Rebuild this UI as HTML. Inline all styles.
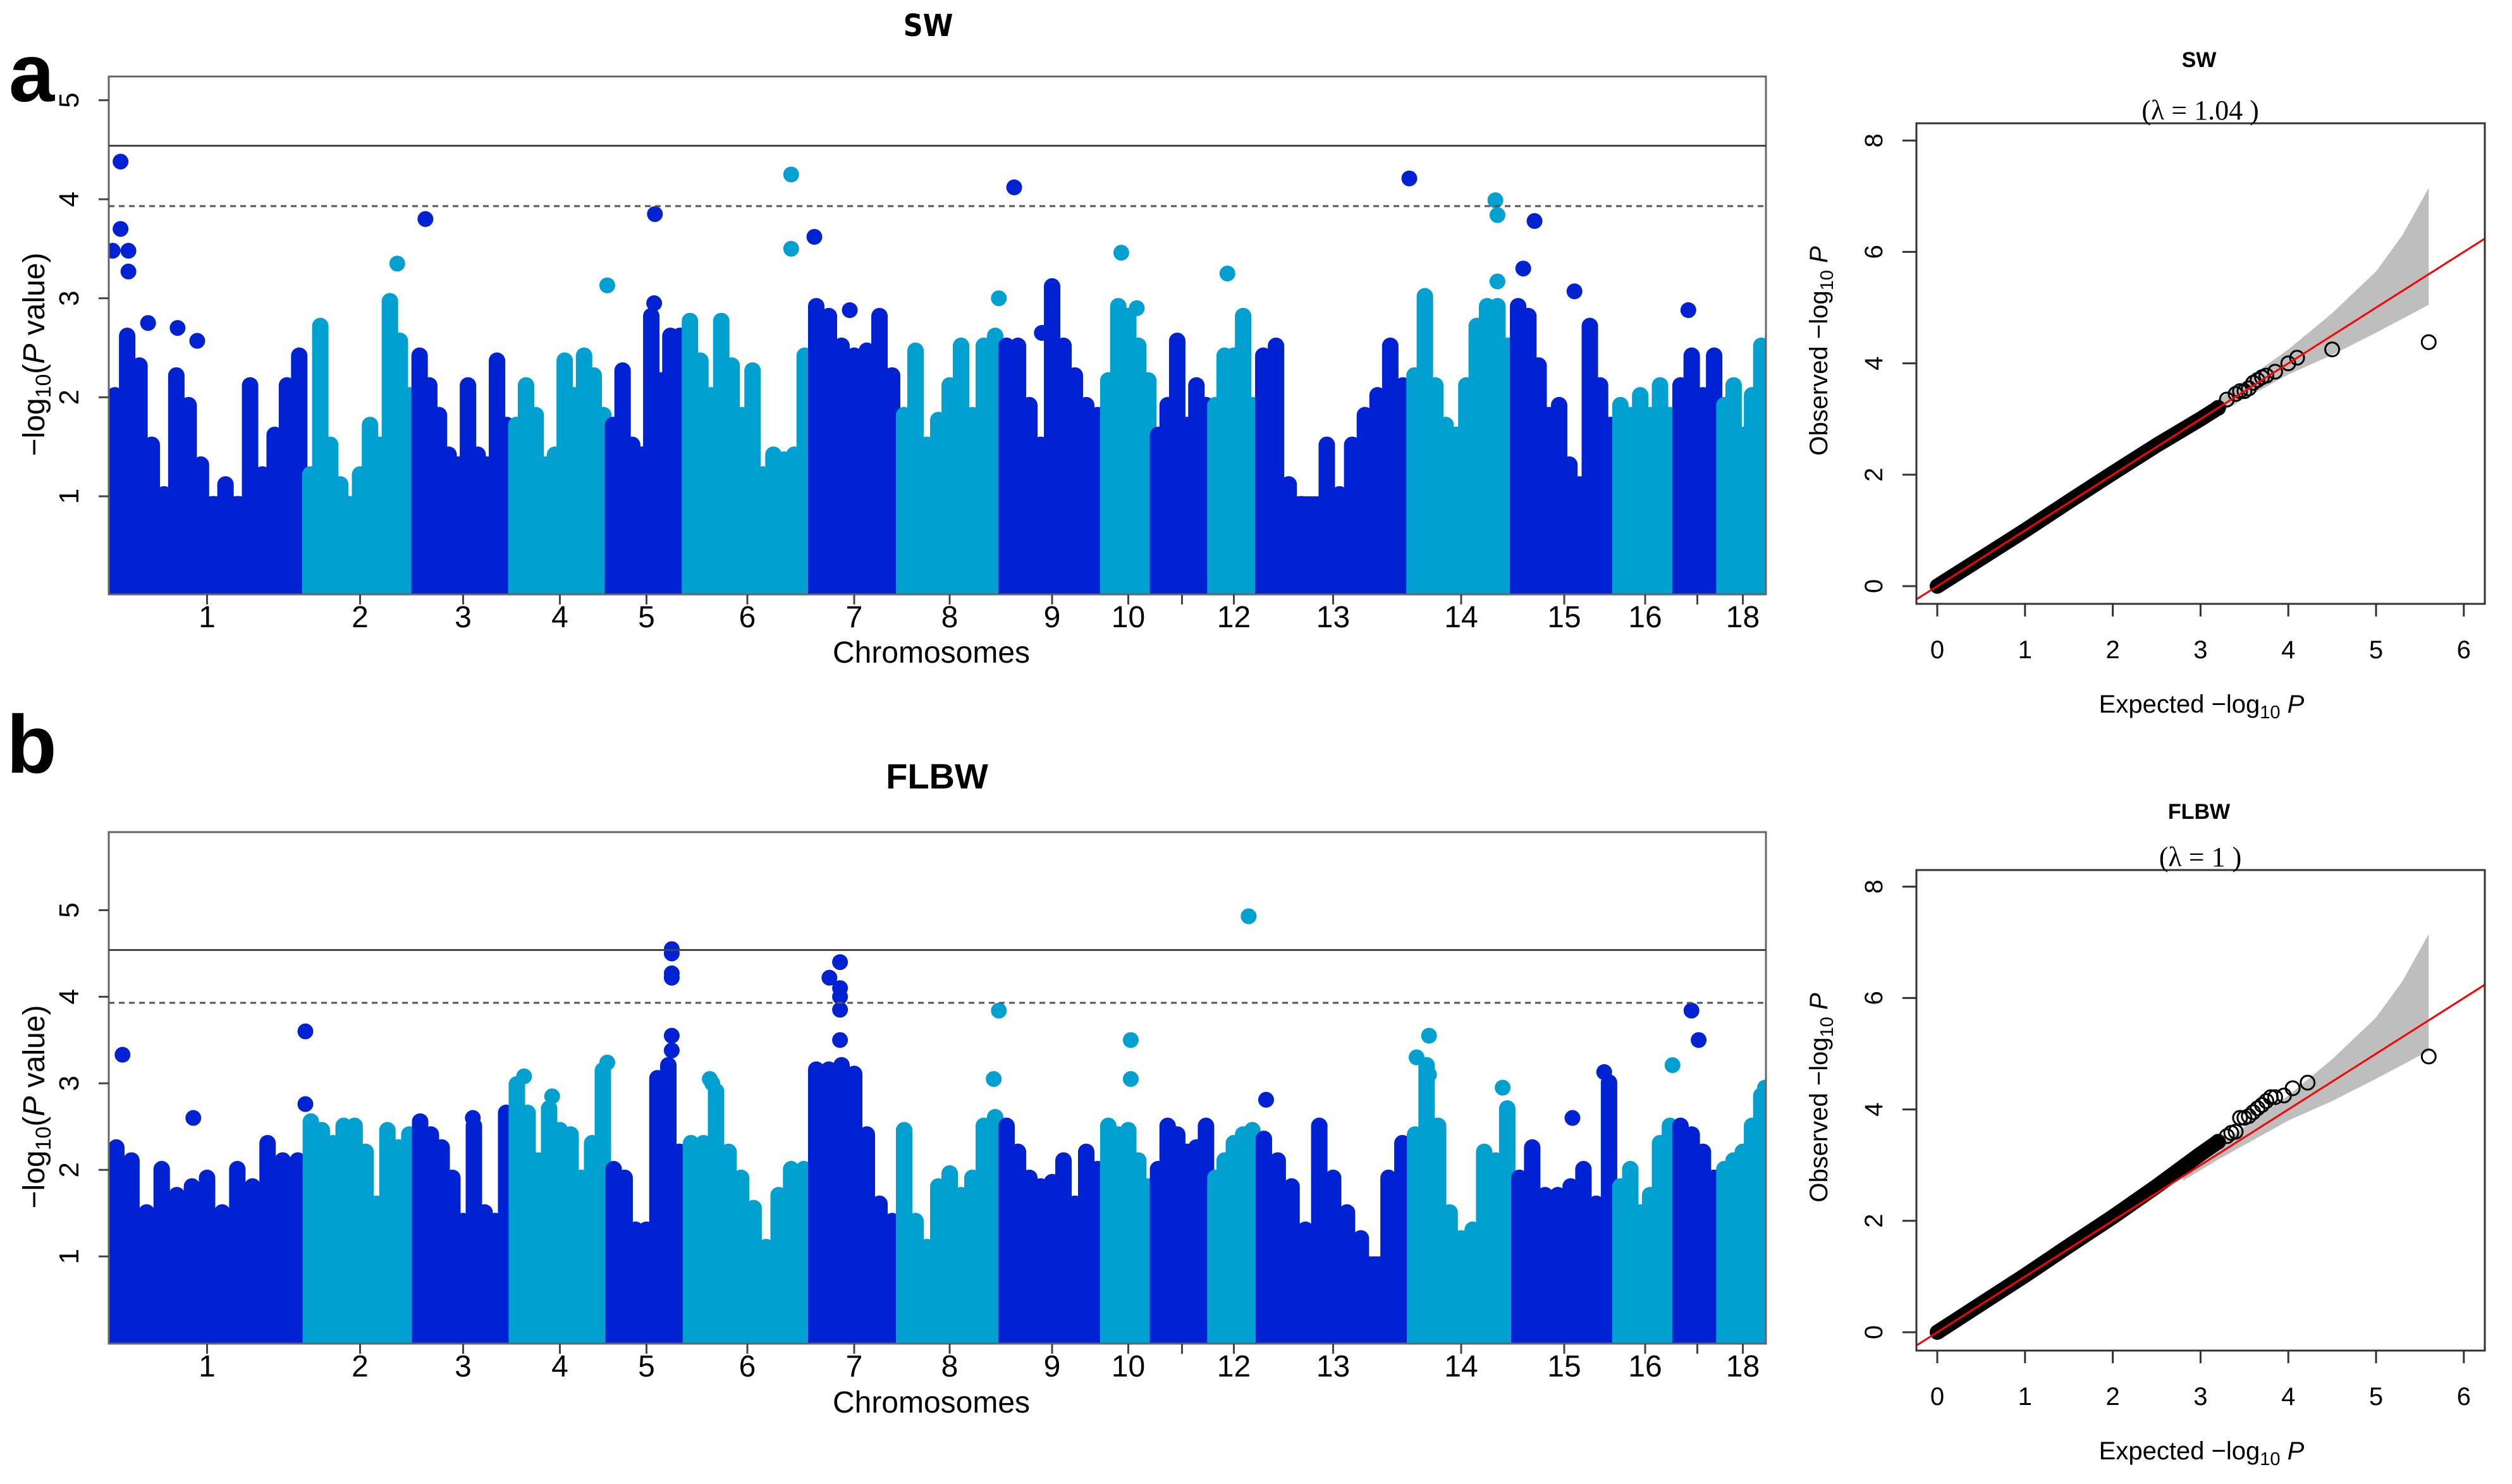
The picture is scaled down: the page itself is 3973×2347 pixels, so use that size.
<!DOCTYPE html>
<html><head><meta charset="utf-8"><style>
html,body{margin:0;padding:0;background:#fff;}
svg{display:block;}
text{font-family:"Liberation Sans",sans-serif;}
</style></head>
<body>
<svg id="fig" xmlns="http://www.w3.org/2000/svg" width="3973" height="2347" viewBox="0 0 3973 2347">
<rect width="3973" height="2347" fill="#fff"/>
<text x="50" y="160" font-size="130" font-weight="bold" text-anchor="middle" style="font-family:'Liberation Sans Narrow','Liberation Sans',sans-serif">a</text>
<text x="50" y="1222" font-size="130" font-weight="bold" text-anchor="middle" style="font-family:'Liberation Sans Narrow','Liberation Sans',sans-serif">b</text>
<text x="1468" y="57" font-size="48" font-weight="bold" text-anchor="middle" style="font-family:'DejaVu Sans Condensed','Liberation Sans',sans-serif">SW</text>
<text x="1482" y="1247" font-size="56" font-weight="bold" text-anchor="middle">FLBW</text>
<g id="manA"></g>
<g id="manB"></g>
<g id="qqA"></g>
<g id="qqB"></g>
</svg>
<script>
// ---- data ----
const chromNames = ["1","2","3","4","5","6","7","8","9","10","11","12","13","14","15","16","17","18"];
const chromLen = [311,173,153,153,121,198,140,162,162,79,91,73,241,164,162,94,71,73];
const chromLabelShown = [1,1,1,1,1,1,1,1,1,1,0,1,1,1,1,1,0,1];
const yTicksManhattan = [1,2,3,4,5];
const thresholdSolid = 4.54;
const thresholdDashed = 3.93;

const colsA = [
 [2.1,2.7,2.4,1.6,1.1,2.3,2.0,1.4,1.0,1.2,1.0,2.2,1.3,1.7,2.2,2.5],
 [1.3,2.8,1.6,1.2,1.0,1.3,1.8,1.6,3.05,2.65,2.1],
 [2.5,2.2,1.9,1.5,1.4,2.2,1.5,1.4,2.45,1.8],
 [1.8,2.2,1.9,1.4,1.5,2.45,2.1,2.5,2.3,1.9],
 [1.8,2.35,1.6,1.5,2.9,2.25,2.7,2.7],
 [2.85,2.45,2.1,2.85,2.4,1.9,2.35,1.3,1.5,1.45,1.5,2.5],
 [3.0,2.9,2.6,2.5,2.55,2.9,2.3],
 [1.9,2.55,1.6,1.85,2.2,2.6,1.9,2.6,2.7],
 [2.6,2.6,2.0,1.6,3.2,2.6,2.3,2.0,1.9],
 [2.25,3.0,2.9,2.6,2.25],
 [1.7,2.0,2.65,1.8,2.2,2.0],
 [2.0,2.5,2.5,2.9,2.0],
 [2.5,2.6,1.2,1.0,0.9,1.6,1.1,1.6,1.9,2.1,2.6,2.2],
 [2.3,3.1,2.2,1.8,1.7,2.2,2.8,3.0,3.0,2.6],
 [3.0,2.9,2.4,1.9,2.0,1.4,1.2,2.8,2.2,1.8],
 [2.0,1.9,2.1,1.9,2.2,1.9],
 [2.2,2.5,2.1,2.5],
 [2.0,2.2,1.7,2.1,2.6]
];
const hitsAChrom = [0,0,0,0,0,0,0,0,1,2,3,4,4,5,5,6,6,7,8,8,9,9,11,12,13,13,13,14,14,14,16];
const hitsAFrac  = [0.06,0.06,0.02,0.1,0.1,0.2,0.35,0.45,0.84,0.11,0.99,0.61,0.6,0.85,0.85,0.05,0.45,0.98,0.13,0.4,0.36,0.67,0.36,1.0,0.83,0.85,0.85,0.21,0.1,0.6,0.3];
const hitsAVal   = [4.38,3.7,3.48,3.48,3.27,2.75,2.7,2.57,3.35,3.8,3.13,3.85,2.95,4.25,3.5,3.62,2.88,3.0,4.12,2.65,3.46,2.9,3.25,4.21,3.99,3.84,3.17,3.78,3.3,3.07,2.88];

const colsB = [
 [2.35,2.2,1.6,2.1,1.8,1.9,2.0,1.6,2.1,1.9,2.4,2.2,2.2],
 [2.65,2.55,2.4,2.6,2.6,2.3,1.7,2.55,2.35,2.5],
 [2.65,2.5,2.35,2.0,1.5,2.6,1.6,1.5,2.75],
 [3.08,2.75,2.2,2.8,2.55,2.5,2.0,2.4,3.24],
 [2.1,2.0,1.4,1.4,3.15,3.3,2.3],
 [2.4,2.4,3.0,2.3,2.0,1.65,1.2,1.8,2.1,2.1],
 [3.25,3.25,3.3,3.2,2.5,1.7,1.5],
 [2.55,1.5,1.2,1.9,2.05,1.8,2.0,2.6,2.7],
 [2.6,2.3,2.0,1.9,1.95,2.2,1.7,2.3,2.1],
 [2.6,2.5,2.55,2.2,1.9],
 [2.1,2.6,2.5,2.3,2.35,2.6],
 [2.0,2.2,2.4,2.5,2.55],
 [2.45,2.2,1.9,1.4,2.6,2.0,1.6,1.3,0.7,2.0,2.4],
 [2.5,3.3,2.6,1.6,1.3,1.4,2.3,2.2,2.8],
 [2.0,2.35,1.8,1.8,1.9,2.1,1.7,3.1],
 [1.9,2.1,1.6,1.8,2.4,2.6],
 [2.6,2.5,2.3,2.0],
 [2.1,2.2,2.3,2.6,2.95]
];
const hitsBChrom = [0,0,0,0,2,3,3,3,4,4,4,4,4,4,5,5,6,6,6,6,6,6,7,7,9,9,11,12,13,13,13,13,14,14,15,16,16,17];
const hitsBFrac  = [0.07,0.43,1.0,1.0,0.6,0.13,0.99,0.42,0.83,0.83,0.83,0.83,0.83,0.83,0.2,0.22,0.22,0.34,0.34,0.34,0.34,0.34,0.98,0.93,0.55,0.55,0.82,0.06,0.19,0.07,0.19,0.9,0.89,0.58,0.96,0.37,0.53,0.98];
const hitsBVal   = [3.33,2.6,3.6,2.76,2.6,3.08,3.24,2.85,4.55,4.5,4.27,4.22,3.55,3.38,3.05,3.0,4.22,4.4,4.1,4.0,3.85,3.5,3.84,3.05,3.5,3.05,4.93,2.81,3.55,3.3,3.1,2.95,3.13,2.6,3.21,3.84,3.5,2.95];

const qqTicks = [0,1,2,3,4,5,6];
const qqYTicks = [0,2,4,6,8];
const qqAExp = [0,0.5,1,1.5,2,2.5,3,3.2,3.3,3.4,3.45,3.5,3.55,3.6,3.65,3.7,3.75,3.85,4.0,4.1,4.5,5.6];
const qqAObs = [0,0.5,1,1.52,2.03,2.53,3.0,3.2,3.35,3.45,3.5,3.5,3.55,3.65,3.7,3.75,3.78,3.85,4.0,4.1,4.25,4.38];
const qqBExp = [0,0.5,1,1.5,2,2.5,3,3.2,3.3,3.35,3.4,3.45,3.5,3.55,3.6,3.65,3.7,3.75,3.8,3.85,3.95,4.05,4.22,5.6];
const qqBObs = [0,0.51,1.02,1.55,2.07,2.62,3.2,3.42,3.52,3.58,3.6,3.85,3.85,3.88,3.95,4.02,4.08,4.15,4.22,4.22,4.25,4.38,4.48,4.95];
const bandX = [2.8,3.2,3.6,4.0,4.5,5.0,5.3,5.6];
const bandUpper = [2.9,3.35,3.8,4.25,4.9,5.65,6.3,7.15];
const bandLower = [2.72,3.1,3.45,3.8,4.15,4.55,4.8,5.05];

// ---- helpers ----
const NS = "http://www.w3.org/2000/svg";
function mk(tag, attrs, parent){const e=document.createElementNS(NS,tag);for(const k in attrs)e.setAttribute(k,attrs[k]);parent.appendChild(e);return e;}
const DARK="#0022d2", CYAN="#00a0d0";
const boxL=172, boxR=2793;
const totalLen = chromLen.reduce((a,b)=>a+b,0);
const chromStart=[];{let c=0;for(const l of chromLen){chromStart.push(c);c+=l;}}
function xPos(ci,frac){return boxL+(chromStart[ci]+frac*chromLen[ci])*(boxR-boxL)/totalLen;}

function manhattan(gid, cfg, cols, hc, hf, hv, clipId){
  const g=document.getElementById(gid);
  const yv=v=>cfg.zero - v*cfg.unit;
  const defs=mk("defs",{},g);
  const cp=mk("clipPath",{id:clipId},defs);
  mk("rect",{x:boxL,y:cfg.top,width:boxR-boxL,height:cfg.bottom-cfg.top},cp);
  const dg=mk("g",{"clip-path":"url(#"+clipId+")"},g);
  const R=12.5;
  cols.forEach((arr,ci)=>{
    const col = ci%2===0?DARK:CYAN;
    const cg=mk("g",{},dg);
    
    
    mk("rect",{x:xPos(ci,0),y:yv(1.0),width:xPos(ci,1)-xPos(ci,0),height:cfg.zero-yv(1.0)+20,fill:col},cg);
    arr.forEach((v,i)=>{
      const x=xPos(ci,(i+0.5)/arr.length);
      mk("line",{x1:x,x2:x,y1:cfg.zero+30,y2:yv(v)+R,stroke:col,"stroke-width":26,"stroke-linecap":"round"},cg);
    });
  });
  hc.forEach((ci,i)=>{
    const c=mk("circle",{cx:xPos(ci,hf[i]),cy:yv(hv[i]),r:R,fill:ci%2===0?DARK:CYAN},dg);
    
    
  });
  const b=mk("rect",{x:boxL,y:cfg.top,width:boxR-boxL,height:cfg.bottom-cfg.top,fill:"none",stroke:"#666","stroke-width":3},g);
  
  
  const sl=mk("line",{x1:boxL,x2:boxR,y1:yv(thresholdSolid),y2:yv(thresholdSolid),stroke:"#444","stroke-width":3},g);
  
  
  const dl=mk("line",{x1:boxL,x2:boxR,y1:yv(thresholdDashed),y2:yv(thresholdDashed),stroke:"#555","stroke-width":3,"stroke-dasharray":"9 7"},g);
  
  
  yTicksManhattan.forEach(t=>{
    mk("line",{x1:boxL-16,x2:boxL,y1:yv(t),y2:yv(t),stroke:"#444","stroke-width":3},g);
    const tx=mk("text",{x:124,y:yv(t),"font-size":44,"text-anchor":"middle",transform:"rotate(-90 124 "+yv(t)+")"},g);
    tx.textContent=t;
    
    
  });
  chromNames.forEach((n,ci)=>{
    const x=xPos(ci,0.5);
    mk("line",{x1:x,x2:x,y1:cfg.bottom,y2:cfg.bottom+16,stroke:"#444","stroke-width":3},g);
    if(chromLabelShown[ci]){
      const t=mk("text",{x:x,y:cfg.tickY,"font-size":48,"text-anchor":"middle",style:"font-family:'Liberation Sans Narrow','Liberation Sans',sans-serif"},g);
      t.textContent=n;
      
      
    }
  });
  const xt=mk("text",{x:1473,y:cfg.xTitleY,"font-size":48,"text-anchor":"middle",style:"font-family:'Liberation Sans Narrow','Liberation Sans',sans-serif"},g);
  xt.textContent="Chromosomes";
  
  
  const cy=(cfg.top+cfg.bottom)/2+30;
  const yt=mk("text",{x:70,y:cy,"font-size":48,"text-anchor":"middle",transform:"rotate(-90 70 "+cy+")"},g);
  yt.innerHTML='−log<tspan font-size="34" dy="10">10</tspan><tspan dy="-10">(</tspan><tspan font-style="italic">P</tspan> value)';
  
  
}

manhattan("manA",{top:121,bottom:940,zero:941.5,unit:156.6,tickY:992,xTitleY:1048},colsA,hitsAChrom,hitsAFrac,hitsAVal,"clipA");
manhattan("manB",{top:1316,bottom:2125,zero:2124,unit:136.9,tickY:2177,xTitleY:2234},colsB,hitsBChrom,hitsBFrac,hitsBVal,"clipB");

function qq(gid,cfg,ex,ob,title,lambda,clipId){
  const g=document.getElementById(gid);
  const L=3031,R=3930;
  const xv=v=>3064+v*138.8, yv=v=>cfg.zero-v*88.1;
  const defs=mk("defs",{},g);
  const cp=mk("clipPath",{id:clipId},defs);
  mk("rect",{x:L,y:cfg.top,width:R-L,height:cfg.bottom-cfg.top},cp);
  const dg=mk("g",{"clip-path":"url(#"+clipId+")"},g);
  let pts=bandX.map((x,i)=>xv(x)+","+yv(bandUpper[i]));
  pts=pts.concat(bandX.slice().reverse().map((x,i)=>xv(x)+","+yv(bandLower[bandX.length-1-i])));
  const band=mk("polygon",{points:pts.join(" "),fill:"#bebebe"},dg);
  
  
  const dense=[];
  ex.forEach((e,i)=>{if(e<=3.2)dense.push(xv(e)+","+yv(ob[i]));});
  const dl=mk("polyline",{points:dense.join(" "),fill:"none",stroke:"#000","stroke-width":24,"stroke-linecap":"round","stroke-linejoin":"round"},dg);
  
  
  ex.forEach((e,i)=>{if(e>3.1){
    const c=mk("circle",{cx:xv(e),cy:yv(ob[i]),r:11,fill:"none",stroke:"#000","stroke-width":3},dg);
    
    
  }});
  const rl=mk("line",{x1:xv(-0.3),y1:yv(-0.3),x2:xv(6.5),y2:yv(6.5),stroke:"#ff0000","stroke-width":3},dg);
  
  
  const fr=mk("rect",{x:L,y:cfg.top,width:R-L,height:cfg.bottom-cfg.top,fill:"none",stroke:"#333","stroke-width":3},g);
  
  
  qqTicks.forEach(t=>{
    mk("line",{x1:xv(t),x2:xv(t),y1:cfg.bottom,y2:cfg.bottom+20,stroke:"#333","stroke-width":3},g);
    const tx=mk("text",{x:xv(t),y:cfg.tickY,"font-size":40,"text-anchor":"middle"},g);
    tx.textContent=t;
    
    
  });
  qqYTicks.forEach(t=>{
    mk("line",{x1:L-22,x2:L,y1:yv(t),y2:yv(t),stroke:"#333","stroke-width":3},g);
    const tx=mk("text",{x:2977,y:yv(t),"font-size":40,"text-anchor":"middle",transform:"rotate(-90 2977 "+yv(t)+")"},g);
    tx.textContent=t;
    
    
  });
  const xt=mk("text",{x:3482,y:cfg.xTitleY,"font-size":40,"text-anchor":"middle"},g);
  xt.innerHTML='Expected  −log<tspan font-size="29" dy="9">10</tspan><tspan dy="-9" font-style="italic"> P</tspan>';
  
  
  const cy=(cfg.top+cfg.bottom)/2-20;
  const yt=mk("text",{x:2890,y:cy,"font-size":40,"text-anchor":"middle",transform:"rotate(-90 2890 "+cy+")"},g);
  yt.innerHTML='Observed  −log<tspan font-size="29" dy="9">10</tspan><tspan dy="-9" font-style="italic"> P</tspan>';
  
  
  const tt=mk("text",{x:3478,y:cfg.titleY,"font-size":34,"font-weight":"bold","text-anchor":"middle"},g);
  tt.textContent=title;
  
  
  const lt=mk("text",{x:3480,y:cfg.lambdaY,"font-size":44,"text-anchor":"middle",style:"font-family:'Liberation Serif',serif"},g);
  lt.textContent="(λ =  "+lambda+" )";
  
  
}
qq("qqA",{top:195,bottom:955,zero:927,tickY:1041,xTitleY:1127,titleY:106,lambdaY:189},qqAExp,qqAObs,"SW","1.04","clipQA");
qq("qqB",{top:1376,bottom:2136,zero:2107,tickY:2222,xTitleY:2308,titleY:1295,lambdaY:1370},qqBExp,qqBObs,"FLBW","1","clipQB");
</script>
</body></html>
